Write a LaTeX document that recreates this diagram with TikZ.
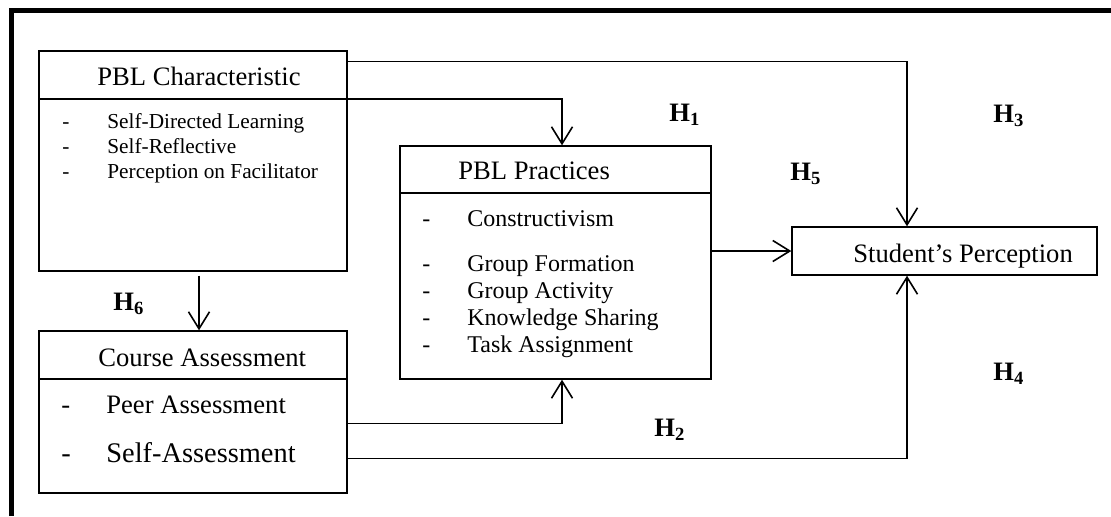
\documentclass[tikz,border=0pt]{standalone}
\usepackage{fontspec}
\setmainfont{Liberation Serif}
\usetikzlibrary{arrows.meta,fit,calc}
\tikzset{
  box/.style={draw, line width=0.7pt, inner sep=0pt},
  sep/.style={line width=0.7pt},
  conn/.style={line width=0.8pt, -{Straight Barb[length=8.5pt,width=10.5pt,line width=0.8pt]}},
  title/.style={anchor=base west, inner sep=0pt, font=\fontsize{13.3}{16}\selectfont},
  item/.style={anchor=base west, inner sep=0pt},
  hyp/.style={anchor=base west, inner sep=0pt, font=\fontsize{13.3}{16}\selectfont\bfseries},
}
\newcommand{\dashitem}[1]{\makebox[22.5pt][l]{-}#1}

\begin{document}
\begin{tikzpicture}[x=0.5pt, y=-0.5pt]
    \useasboundingbox (0,0) rectangle (1111,516);
    % frame
    \draw[line width=2.6pt, line join=miter] (11.5,516) -- (11.5,10.5) -- (1111,10.5);

    % boxes
    \node[box, fit={(39,51) (347,271)}] (char) {};
    \node[box, fit={(39,331) (347,493)}] (course) {};
    \node[box, fit={(400,146) (711,379)}] (prac) {};
    \node[box, fit={(792,227) (1097,275)}] (stud) {};

    % title separators
    \coordinate (chardiv) at (39,99);
    \coordinate (coursediv) at (39,379);
    \coordinate (pracdiv) at (400,193);
    \draw[sep] (chardiv) -- (chardiv -| char.east);
    \draw[sep] (coursediv) -- (coursediv -| course.east);
    \draw[sep] (pracdiv) -- (pracdiv -| prac.east);

    % titles
    \node[title] (chartitle) at (97,85) {PBL Characteristic};
    \node[title] (coursetitle) at (98,366) {Course Assessment};
    \node[title] (practitle) at (458,179) {PBL Practices};
    \node[title] (studtitle) at (853,262) {Student’s Perception};

    % items
    \foreach \txt [count=\i] in {Self-Directed Learning, Self-Reflective, Perception on Facilitator}
        \node[item, font=\fontsize{10.65}{12}\selectfont] (charitem\i) at (62,103+25*\i) {\dashitem{\txt}};
    \foreach \y/\txt [count=\i] in {226/Constructivism, 271/Group Formation, 298/Group Activity, 325/Knowledge Sharing, 352/Task Assignment}
        \node[item, font=\fontsize{12}{14}\selectfont] (pracitem\i) at (422,\y) {\dashitem{\txt}};
    \foreach \y/\fs/\txt [count=\i] in {413/13.3/Peer Assessment, 462/14.2/Self-Assessment}
        \node[item, font=\fontsize{\fs}{16}\selectfont] (courseitem\i) at (61,\y) {\dashitem{\txt}};

    % hypotheses
    \node[hyp] (h1) at (669,121) {H\textsubscript{1}};
    \node[hyp] (h2) at (654,436) {H\textsubscript{2}};
    \node[hyp] (h3) at (993,122) {H\textsubscript{3}};
    \node[hyp] (h4) at (993,380) {H\textsubscript{4}};
    \node[hyp] (h5) at (790,180) {H\textsubscript{5}};
    \node[hyp] (h6) at (113,310) {H\textsubscript{6}};

    % connectors
    \coordinate (px) at (562,0);
    \coordinate (jx) at (907,0);
    \draw[conn] (chardiv -| char.east) -| (prac.north -| px);
    \draw[conn] ($(char.north east)+(0,11)$) -| (stud.north -| jx);
    \draw[conn, shorten <=2pt] ([xshift=3pt]char.south) -- ([xshift=3pt]course.north);
    \draw[conn] ($(course.north east)+(0,93)$) -| (prac.south -| px);
    \draw[conn] ($(course.north east)+(0,128)$) -| (stud.south -| jx);
    \draw[conn] (prac.east |- stud.west) -- (stud.west);
\end{tikzpicture}
\end{document}
